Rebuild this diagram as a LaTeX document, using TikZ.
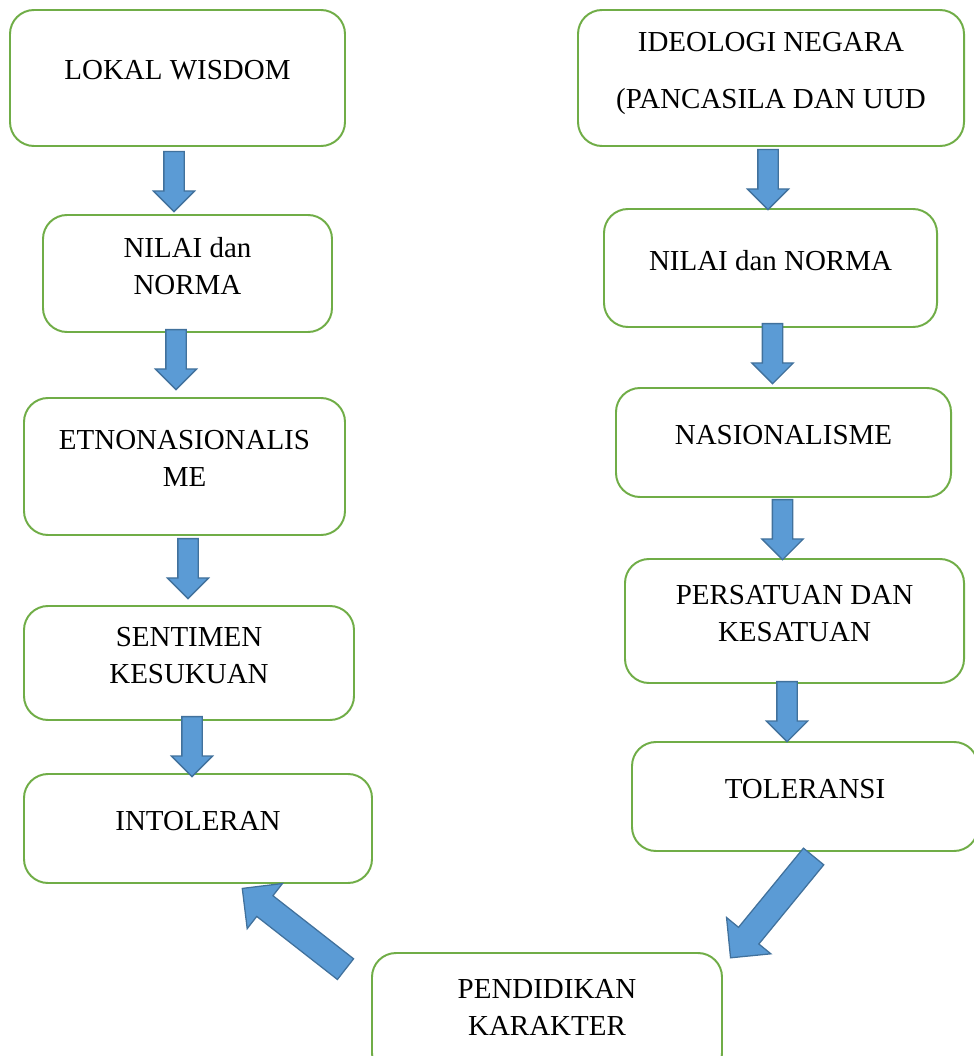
\documentclass[tikz,border=0pt]{standalone}
\usepackage{fontspec}
\setmainfont{Liberation Serif}
\usetikzlibrary{shapes.arrows,calc}

\definecolor{boxgreen}{HTML}{70AD47}
\definecolor{arrowblue}{HTML}{5B9BD5}
\definecolor{arrowline}{HTML}{41719C}

\tikzset{
  box/.style={draw=boxgreen, line width=1.4pt, rounded corners=0.6cm,
    align=center, inner sep=0pt, text depth=0.4cm,
    font=\fontsize{20.6}{26.3}\selectfont},
  flow/.style={single arrow, draw=arrowline, fill=arrowblue, line width=0.9pt,
    inner xsep=0pt, inner ysep=0.2375cm, single arrow head indent=0pt,
    sloped, allow upside down, anchor=tail,
    single arrow head extend=0.2625cm, minimum width=1cm, minimum height=1.5cm},
  bigflow/.style={flow, inner ysep=0.3125cm, single arrow head extend=0.3875cm,
    minimum width=1.4cm, minimum height=3.275cm}
}

\begin{document}
\begin{tikzpicture}[x=0.025cm,y=-0.025cm]
    \useasboundingbox (0,0) rectangle (973,1056);
    % boxes: name/centre x/centre y/width/height/text (pixel units)
    \foreach \id/\x/\y/\w/\h/\txt in {
      lw/177.5/78/335/136/{LOKAL WISDOM},
      nl/187.5/273.5/289/117/{NILAI dan\\NORMA},
      et/184.5/466.5/321/137/{ETNONASIONALIS\\ME},
      sk/189/663/330/114/{SENTIMEN\\KESUKUAN},
      it/198/828.5/348/109/{INTOLERAN},
      ig/771/78/386/136/{IDEOLOGI NEGARA\\[14.2pt](PANCASILA DAN UUD},
      nr/770.5/268/333/118/{NILAI dan NORMA},
      ns/783.5/442.5/335/109/{NASIONALISME},
      pk/794.5/621/339/124/{PERSATUAN DAN\\KESATUAN},
      tl/805/796.5/346/109/{TOLERANSI},
      pd/547/1015/350/124/{PENDIDIKAN\\KARAKTER}}
    {
      \node[box, minimum width=\w*0.025cm, minimum height=\h*0.025cm]
        (\id) at (\x,\y) {\txt};
    }
    % block arrows down the two columns
    \foreach \a/\b/\xa/\ya/\xb/\yb in {
      lw/nl/-3.5/4/-13.5/-5,
      nl/et/-11.5/-4/-8.5/-10,
      et/sk/3.5/2/-1/-9,
      sk/it/3/-5/-6/1,
      ig/nr/-3/2/-2.5/-1,
      nr/ns/2/-5/-11/-6,
      ns/pk/-1/1/-12/-2,
      pk/tl/-7.5/-3/-18/-2}
    {
      \path ($(\a.south)+(\xa,\ya)$) -- ($(\b.north)+(\xb,\yb)$)
        node[at start, flow] {};
    }
    % the two slanted arrows through PENDIDIKAN KARAKTER
    \path ($(tl.south)+(9,4)$) -- ($(pd.north)+(185,4)$) node[at start, bigflow] {};
    \path ($(pd.north)+(-201,17.5)$) -- ($(it.south)+(45,5)$) node[at start, bigflow] {};
\end{tikzpicture}
\end{document}
